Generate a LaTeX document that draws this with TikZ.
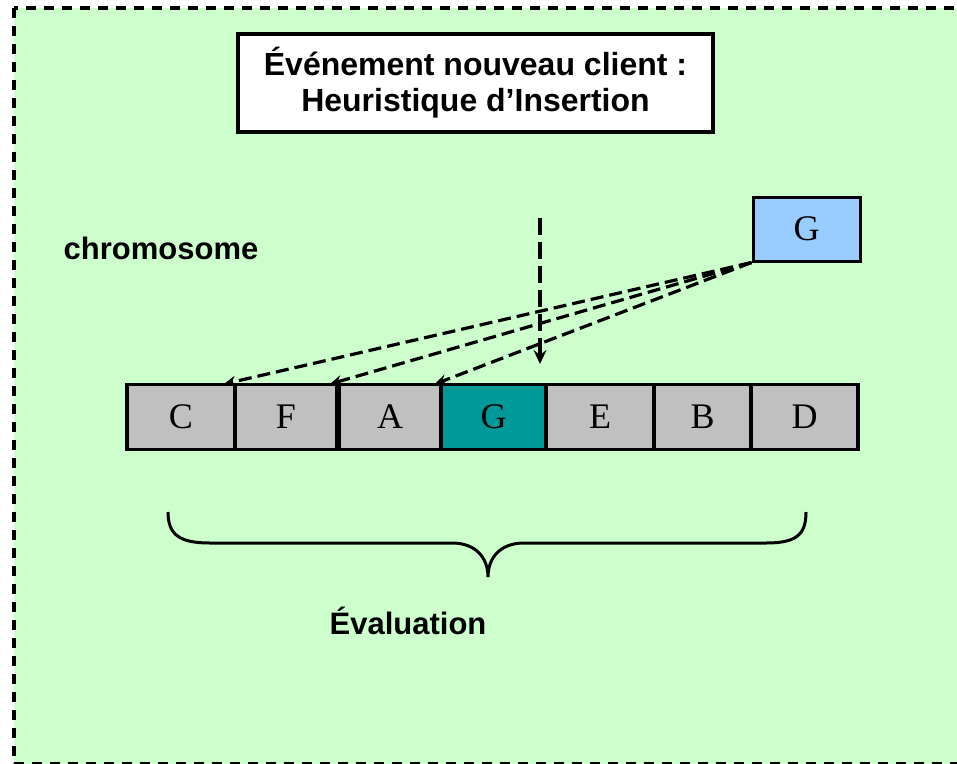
\documentclass[tikz,border=0pt]{standalone}
\usepackage{fontspec}
\setmainfont{Liberation Serif}
\newfontfamily\lsans{Liberation Sans}
\usetikzlibrary{arrows.meta}
\definecolor{bggreen}{HTML}{CCFFCC}
\definecolor{cellgray}{HTML}{C0C0C0}
\definecolor{teal}{HTML}{009999}
\definecolor{lightblue}{HTML}{99CCFF}
\tikzset{
  cellbox/.style={draw, line width=3.4pt, minimum height=65pt, inner sep=0pt,
    fill=cellgray, font=\fontsize{36}{40}\selectfont},
  label/.style={font=\lsans\bfseries\fontsize{31}{34}\selectfont, inner sep=0pt},
  dasharrow/.style={line width=3.2pt, dash pattern=on 13pt off 6pt,
    -{Stealth[length=12pt,width=11pt,inset=4pt]}},
}
\begin{document}
\begin{tikzpicture}[x=1pt,y=-1pt]
\useasboundingbox (0,0) rectangle (957,763);
\begin{scope}
\clip (0,0) rectangle (957,763);
\draw[fill=bggreen, line width=3.4pt, dash pattern=on 10pt off 8pt] (14,8) rectangle (970,764);
\end{scope}
% title
\node[draw, fill=white, line width=3.2pt, minimum width=475pt, minimum height=98pt,
  align=center, font=\lsans\bfseries\fontsize{32}{36}\selectfont]
  (title) at (475.5,83) {Événement nouveau client :\\ Heuristique d’Insertion};
% chromosome label
\node[label] (chromo) at (161,248) {chromosome};
% new gene
\node[draw, fill=lightblue, line width=3pt, minimum width=107pt, minimum height=64pt,
  inner sep=0pt, font=\fontsize{36}{40}\selectfont] (newG) at (806.5,229) {G};
% chromosome cells
\node[cellbox, minimum width=108pt] (C) at (181,417) {C};
\node[cellbox, minimum width=102pt] (F) at (286,417) {F};
\node[cellbox, minimum width=102pt] (A) at (390,417) {A};
\node[cellbox, minimum width=105pt, fill=teal] (G) at (493.5,417) {G};
\node[cellbox, minimum width=108pt] (E) at (600,417) {E};
\node[cellbox, minimum width=97pt] (B) at (702.5,417) {B};
\node[cellbox, minimum width=107pt] (D) at (804.5,417) {D};
% insertion points
\coordinate (ins1) at (224,384);
\coordinate (ins2) at (330,384);
\coordinate (ins3) at (435,384);
\coordinate (vtop) at (540,218);
\coordinate (vbot) at (540,364);
\draw[dasharrow] (newG.south west) -- (ins1);
\draw[dasharrow] (newG.south west) -- (ins2);
\draw[dasharrow] (newG.south west) -- (ins3);
\draw[dasharrow, dash pattern=on 17pt off 7pt,
  -{Stealth[length=14pt,width=13pt,inset=5pt]}] (vtop) -- (vbot);
% brace
\draw[line width=3pt] (168,512) .. controls (168,535) and (180,543) .. (210,543)
  -- (452,543) .. controls (476,543) and (488,558) .. (488,577)
  .. controls (488,558) and (500,543) .. (524,543)
  -- (766,543) .. controls (796,543) and (806,535) .. (806,512);
\node[label] (eval) at (408,621) {Évaluation};
\end{tikzpicture}
\end{document}
